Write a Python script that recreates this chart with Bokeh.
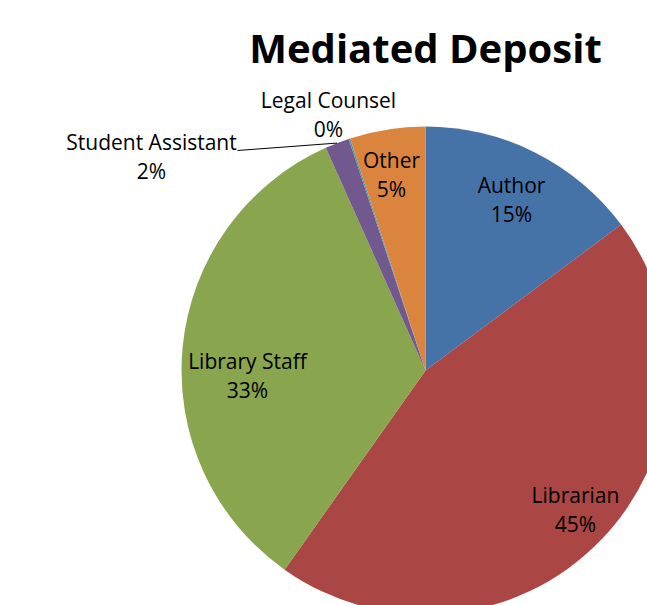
import math
from bokeh.plotting import figure
from bokeh.models import Range1d, ColumnDataSource
from bokeh.core.properties import value
from bokeh.embed import file_html
from bokeh.resources import INLINE

# ---- data ----
categories = ["Author", "Librarian", "Library Staff", "Student Assistant", "Legal Counsel", "Other"]
shares = [14.8, 45.0, 33.5, 1.6, 0.1, 5.0]
pct_labels = ["15%", "45%", "33%", "2%", "0%", "5%"]
colors = ["#4572A7", "#AA4643", "#89A54E", "#71588F", "#4198AF", "#DB843D"]

# ---- layout (page pixel coordinates; y is negated in data space) ----
CX, CY, R = 425, 370, 244
label_x = [511, 575, 247, 151, 328, 391]
label_y = [199, 509, 375, 156, 114, 174]
LINE_GAP = 29
FONT = "Open Sans"

W, H = 647, 605
p = figure(width=W, height=H, x_range=Range1d(0, 647), y_range=Range1d(-605, 0),
           output_backend="svg", toolbar_location=None, min_border=0)
p.axis.visible = False
p.grid.visible = False
p.outline_line_color = None
p.background_fill_color = "white"
p.border_fill_color = "white"

total = sum(shares)
starts, ends, mids = [], [], []
cum = 0.0
for s in shares:
    a1 = cum / total * 2 * math.pi          # clockwise from top
    cum += s
    a2 = cum / total * 2 * math.pi
    starts.append(math.pi / 2 - a2)
    ends.append(math.pi / 2 - a1)
    mids.append((a1 + a2) / 2)

src = ColumnDataSource(dict(cat=categories, start=starts, end=ends, color=colors))
p.wedge(x=CX, y=-CY, radius=R, start_angle="start", end_angle="end",
        fill_color="color", line_color=None, source=src)

# leader line for Student Assistant
i_sa = categories.index("Student Assistant")
ex = CX + R * math.sin(mids[i_sa])
ey = CY - R * math.cos(mids[i_sa])
p.line(x=[237, ex], y=[-150, -ey], line_color="black", line_width=1)

lab = ColumnDataSource(dict(x=label_x, y=[-v for v in label_y], name=categories, pct=pct_labels))
p.text(x="x", y="y", text="name", source=lab, y_offset=-LINE_GAP / 2,
       text_align="center", text_baseline="middle", text_font=value(FONT),
       text_font_size="21px", text_color="black")
p.text(x="x", y="y", text="pct", source=lab, y_offset=LINE_GAP / 2,
       text_align="center", text_baseline="middle", text_font=value(FONT),
       text_font_size="21px", text_color="black")

p.text(x=[425], y=[-47], text=["Mediated Deposit"], text_align="center",
       text_baseline="middle", text_font=value(FONT), text_font_style="bold",
       text_font_size="40px", text_color="black")

open("out.html", "w").write(file_html(p, INLINE))
